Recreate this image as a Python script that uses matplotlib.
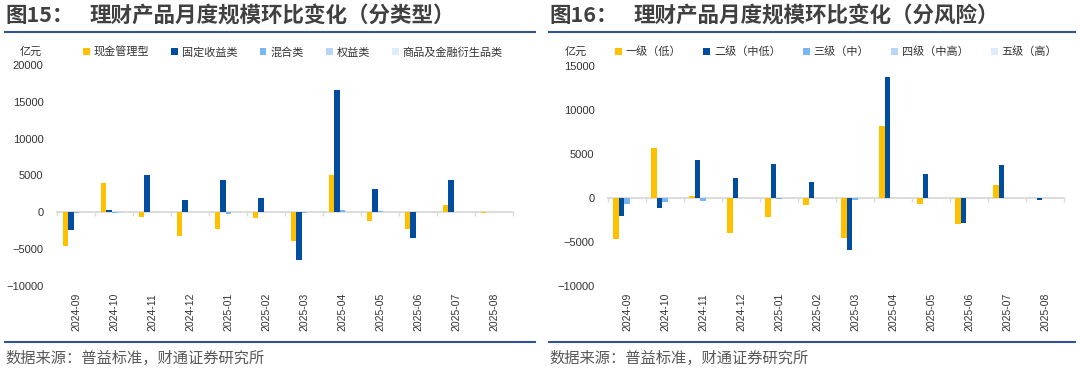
import matplotlib
matplotlib.use("Agg")
import matplotlib.pyplot as plt
import numpy as np
from matplotlib.lines import Line2D

plt.rcParams["font.family"] = ["Liberation Sans", "Noto Sans CJK SC"]
plt.rcParams["axes.unicode_minus"] = True

# ---- data (亿元) ----
months = ["2024-09", "2024-10", "2024-11", "2024-12", "2025-01", "2025-02",
          "2025-03", "2025-04", "2025-05", "2025-06", "2025-07", "2025-08"]

# 分类型
type_names = ["现金管理型", "固定收益类", "混合类", "权益类", "商品及金融衍生品类"]
cash_mgmt = [-4600, 3950, -590, -3270, -2310, -730, -3900, 5000, -1180, -2310, 950, -140]
fixed_income = [-2400, 360, 5000, 1720, 4400, 1900, -6500, 16650, 3170, -3490, 4400, 0]
mixed = [-80, -80, 0, 0, -270, 0, -150, 320, 150, 0, 0, 0]
equity = [0, -50, 0, 0, 0, 0, 0, 60, 0, 0, 0, 0]
commodity = [0, 0, 0, 0, 0, 0, 0, 0, 0, 0, 0, 0]

# 分风险
risk_names = ["一级（低）", "二级（中低）", "三级（中）", "四级（中高）", "五级（高）"]
risk_l1 = [-4660, 5760, 300, -3930, -2180, -760, -4580, 8200, -610, -2980, 1490, 0]
risk_l2 = [-2060, -1070, 4390, 2330, 3930, 1830, -5920, 13860, 2710, -2820, 3740, -150]
risk_l3 = [-610, -380, -300, 0, -100, 0, -150, 0, 0, 0, 0, 0]
risk_l4 = [0, 0, 0, 0, 0, 0, 0, 0, 0, 0, 0, 0]
risk_l5 = [0, 0, 0, 0, 0, 0, 0, 0, 0, 0, 0, 0]

colors = ["#FFC000", "#004DA0", "#79B7F4", "#B5D6F8", "#DDECFA"]
CJK = ["Noto Sans CJK SC", "DejaVu Sans"]
TXT = "#333333"
LINE_BLUE = "#2F5597"

W, H = 1080, 372
fig = plt.figure(figsize=(W / 100, H / 100), dpi=100)


def px(x, y):
    return x / W, 1 - y / H


def draw_panel(rect, series, names, ylim, yticks, bar_w):
    ax = fig.add_axes(rect)
    x = np.arange(len(months))
    n = len(series)
    for i, (vals, name) in enumerate(zip(series, names)):
        ax.bar(x + (i - (n - 1) / 2) * bar_w, vals, width=bar_w,
               color=colors[i], label=name, zorder=3)
    ax.set_xlim(-0.5, len(months) - 0.5)
    ax.set_ylim(*ylim)
    ax.set_yticks(yticks)
    ax.tick_params(axis="y", length=0, pad=10, labelsize=8, labelcolor=TXT)
    for s in ["top", "right", "left"]:
        ax.spines[s].set_visible(False)
    # zero line with small ticks between categories
    ax.spines["bottom"].set_position(("data", 0))
    ax.spines["bottom"].set_color("#D9D9D9")
    ax.spines["bottom"].set_linewidth(1.3)
    ax.spines["bottom"].set_zorder(2)
    ax.set_xticks(np.arange(len(months) + 1) - 0.5)
    ax.set_xticklabels([])
    ax.tick_params(axis="x", length=3, width=1, color="#D9D9D9")
    # month labels at bottom of the axes
    sec = ax.secondary_xaxis(0.0)
    sec.set_xticks(x)
    sec.set_xticklabels(months, rotation=90, fontsize=7.5, color=TXT)
    sec.tick_params(length=0, pad=5)
    sec.spines["bottom"].set_visible(False)
    return ax


ax1 = draw_panel([57.3 / W, 1 - 286 / H, 456 / W, (286 - 65) / H],
                 [cash_mgmt, fixed_income, mixed, equity, commodity], type_names,
                 (-10000, 20000), [-10000, -5000, 0, 5000, 10000, 15000, 20000], 0.145)
ax2 = draw_panel([608.3 / W, 1 - 286 / H, 456 / W, (286 - 66.5) / H],
                 [risk_l1, risk_l2, risk_l3, risk_l4, risk_l5], risk_names,
                 (-10000, 15000), [-10000, -5000, 0, 5000, 10000, 15000], 0.15)

# legends
for ax, lx in [(ax1, 83), (ax2, 615)]:
    h, l = ax.get_legend_handles_labels()
    fig.legend(h, l, loc="center left", bbox_to_anchor=px(lx, 52), ncol=5,
               frameon=False, prop={"family": CJK, "size": 8},
               handlelength=0.6, handleheight=0.6, handletextpad=0.35,
               columnspacing=2.0, borderpad=0, borderaxespad=0, labelcolor=TXT)

# titles, units, source lines
for x0, x1, num, title in [(5, 535, "图15：", "理财产品月度规模环比变化（分类型）"),
                           (549, 1075, "图16：", "理财产品月度规模环比变化（分风险）")]:
    fig.text(*px(x0, 15), num, fontsize=15.5, family=CJK, color="#404040",
             fontweight="bold", ha="left", va="center")
    fig.text(*px(x0 + 85, 15), title, fontsize=15.5, family=CJK, color="#404040",
             fontweight="bold", ha="left", va="center")
    fig.add_artist(Line2D([x0 / W, x1 / W], [1 - 32 / H] * 2, color=LINE_BLUE, lw=1.5))
    fig.add_artist(Line2D([x0 / W, x1 / W], [1 - 342 / H] * 2, color=LINE_BLUE, lw=1.5))
    fig.text(*px(x0, 358), "数据来源：普益标准，财通证券研究所", fontsize=11,
             family=CJK, color="#595959", ha="left", va="center")

fig.text(*px(20, 52), "亿元", fontsize=8, family=CJK, color=TXT, ha="left", va="center")
fig.text(*px(565, 52), "亿元", fontsize=8, family=CJK, color=TXT, ha="left", va="center")

fig.savefig("out.png", dpi=100)
